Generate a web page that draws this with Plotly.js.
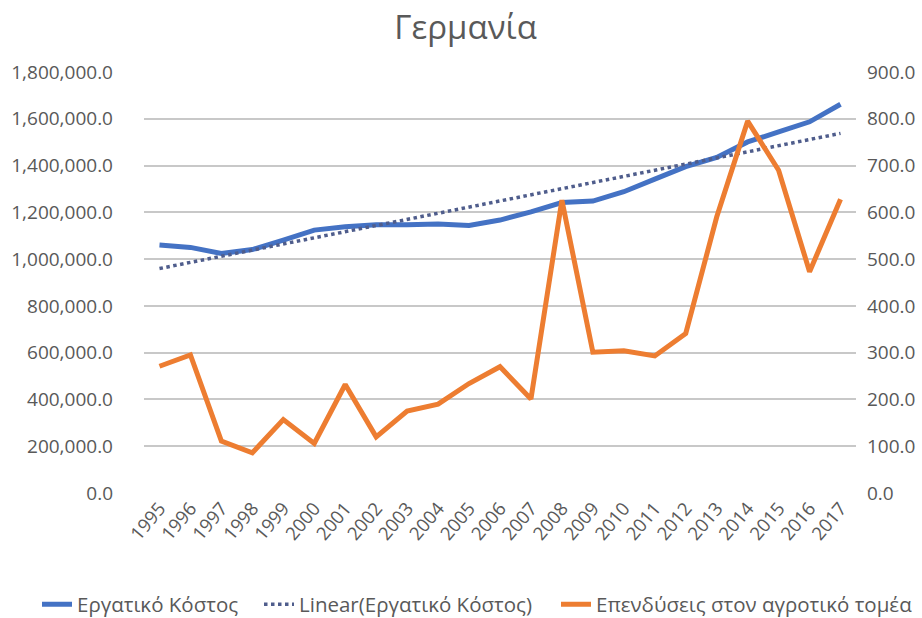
<!DOCTYPE html>
<html>
<head>
<meta charset="utf-8">
<script src="https://cdn.plot.ly/plotly-3.0.1.min.js"></script>
<style>html,body{margin:0;padding:0;background:#fff;}#chart{width:922px;height:618px;}</style>
</head>
<body>
<div id="chart"></div>
<script>
const years = ["1995","1996","1997","1998","1999","2000","2001","2002","2003","2004","2005","2006","2007","2008","2009","2010","2011","2012","2013","2014","2015","2016","2017"];
const laborCost = [1060000,1050000,1024000,1041000,1081000,1124000,1138000,1147000,1147000,1150000,1144000,1167000,1202000,1242000,1248000,1288000,1342000,1395000,1435000,1501000,1544000,1587000,1662000];
const agriInvest = [271,295,111,86,157,106,232,120,175,190,234,270,201,626,301,304,293,341,590,795,690,473,628];

// Linear trendline (least squares) of the labour cost series
function linearFit(ys){
  const n = ys.length;
  let sx=0, sy=0, sxx=0, sxy=0;
  ys.forEach((y,i)=>{sx+=i; sy+=y; sxx+=i*i; sxy+=i*y;});
  const b = (n*sxy - sx*sy)/(n*sxx - sx*sx);
  const a = (sy - b*sx)/n;
  return ys.map((_,i)=>a+b*i);
}
const trend = linearFit(laborCost);

const font = "'Open Sans', 'Noto Sans', sans-serif";
const grey = '#595959';

const traces = [
  {x: years, y: laborCost, name: 'Εργατικό Κόστος', type: 'scatter', mode: 'lines',
   line: {color: '#4472C4', width: 5}, yaxis: 'y', legend: 'legend'},
  {x: years, y: trend, name: 'Linear(Εργατικό Κόστος)', type: 'scatter', mode: 'lines',
   line: {color: '#4F5D8C', width: 3.5, dash: 'dot'}, yaxis: 'y', legend: 'legend2'},
  {x: years, y: agriInvest, name: 'Επενδύσεις στον αγροτικό τομέα', type: 'scatter', mode: 'lines',
   line: {color: '#ED7D31', width: 5}, yaxis: 'y2', legend: 'legend3'}
];

function leg(px){
  return {orientation: 'h', x: px/922, xanchor: 'left', xref: 'container', y: 0.022, yref: 'container', yanchor: 'middle',
          font: {family: font, size: 20.5, color: grey}, itemwidth: 30, bgcolor: 'rgba(0,0,0,0)', borderwidth: 0};
}

const layout = {
  width: 922, height: 618,
  margin: {l: 144, r: 66, t: 72, b: 125},
  paper_bgcolor: '#fff', plot_bgcolor: '#fff',
  font: {family: font, color: grey, size: 18},
  title: {text: 'Γερμανία', x: 0.505, xanchor: 'center', y: 0.955, yanchor: 'middle',
          font: {family: font, size: 33, color: grey}},
  showlegend: true,
  legend: leg(37),
  legend2: leg(259),
  legend3: leg(556),
  xaxis: {type: 'category', range: [-0.5, 22.5], tickangle: -50, showgrid: false, zeroline: false, showline: false,
          ticks: '', tickfont: {family: font, size: 18.5, color: grey}},
  yaxis: {range: [0, 1800000], dtick: 200000, tickformat: ',.1f', showgrid: true,
          gridcolor: '#C8C8C8', gridwidth: 2, zeroline: false, showline: false, ticks: '',
          ticklabelstandoff: 30, tickfont: {family: font, size: 19, color: grey}},
  yaxis2: {range: [0, 900], dtick: 100, tickformat: ',.1f', overlaying: 'y', side: 'right',
           showgrid: false, zeroline: false, showline: false, ticks: '', ticklabelstandoff: 10,
           tickfont: {family: font, size: 19, color: grey}}
};

Plotly.newPlot('chart', traces, layout, {displayModeBar: false, staticPlot: true});
</script>
</body>
</html>
